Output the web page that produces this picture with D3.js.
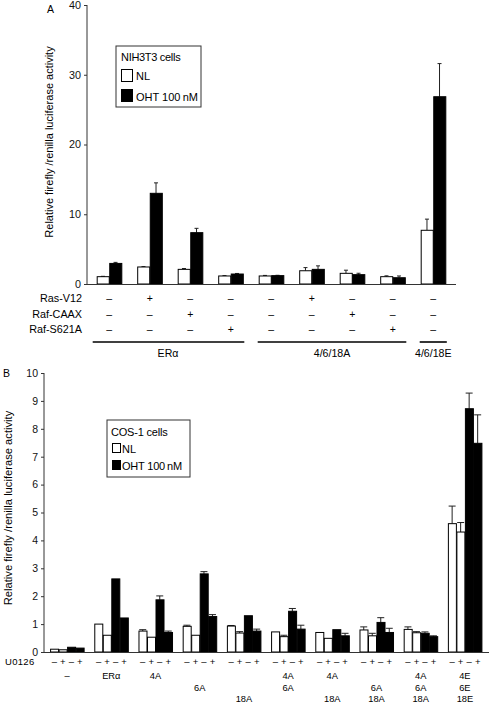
<!DOCTYPE html>
<html><head><meta charset="utf-8">
<script src="https://cdn.jsdelivr.net/npm/d3@7"></script>
<style>body{margin:0;background:#fff}svg{font-family:"Liberation Sans",Arial,sans-serif}</style>
</head><body><svg id="c" width="489" height="704"></svg>
<script>
// ---------- Panel A data ----------
const aGroups = ["g1","g2","g3","g4","g5","g6","g7","g8","g9"];
const aSeries = ["NL","OHT 100 nM"];
const aNL = [1.05, 2.44, 2.1, 1.15, 1.15, 1.9, 1.53, 1.05, 7.7];
const aNLerr = [0.05, 0.05, 0.12, 0.05, 0.08, 0.45, 0.45, 0.12, 1.6];
const aOHT = [2.95, 13.0, 7.36, 1.43, 1.2, 2.1, 1.34, 0.9, 26.85];
const aOHTerr = [0.15, 1.5, 0.62, 0.08, 0.05, 0.5, 0.2, 0.25, 4.75];
const aTicks = [0, 10, 20, 30, 40];
const aRows = ["Ras-V12","Raf-CAAX","Raf-S621A"];
const aSigns = [
  ["–","+","–","–","–","+","–","–","–"],
  ["–","–","+","–","–","–","+","–","–"],
  ["–","–","–","+","–","–","–","+","–"]
];
const aConstructs = [{label:"ERα", from:0, to:3},{label:"4/6/18A", from:4, to:7},{label:"4/6/18E", from:8, to:8}];

// ---------- Panel B data ----------
const bGroups = ["-","ERα","4A","6A","18A","4A6A","4A18A","6A18A","4A6A18A","E"];
const bBars = ["NL-","NL+","OHT-","OHT+"];
const bU0126 = ["–","+","–","+"];
const bValues = [
  [0.1, 0.08, 0.17, 0.14],
  [1.0, 0.6, 2.62, 1.22],
  [0.75, 0.53, 1.87, 0.7],
  [0.92, 0.6, 2.8, 1.27],
  [0.93, 0.68, 1.3, 0.75],
  [0.72, 0.55, 1.46, 0.82],
  [0.7, 0.49, 0.8, 0.58],
  [0.79, 0.58, 1.06, 0.7],
  [0.81, 0.69, 0.67, 0.55],
  [4.6, 4.3, 8.72, 7.48]
];
const bErrors = [
  [0, 0, 0, 0],
  [0, 0, 0, 0],
  [0.05, 0, 0.14, 0.05],
  [0.04, 0, 0.08, 0.07],
  [0.02, 0.05, 0, 0.07],
  [0, 0.05, 0.1, 0.14],
  [0, 0, 0, 0.09],
  [0.11, 0.09, 0.17, 0.15],
  [0.09, 0.04, 0.05, 0.03],
  [0.63, 0.34, 0.56, 1.02]
];
const bLabels = [
  ["–","",""],["ERα","",""],["4A","",""],["","6A",""],["","","18A"],
  ["4A","6A",""],["4A","","18A"],["","6A","18A"],["4A","6A","18A"],["4E","6E","18E"]
];
const bTicks = [0,1,2,3,4,5,6,7,8,9,10];

const svg = d3.select("#c");
const axisCol = "#333";

// ================= Panel A =================
const ay = d3.scaleLinear().domain([0,40]).range([284,5]);
const ax = d3.scaleBand().domain(aGroups).range([89,453.5]).paddingInner(0.38).paddingOuter(0.19);
const axi = d3.scaleBand().domain(aSeries).range([0, ax.bandwidth()]);
const gA = svg.append("g");

const aData = aGroups.map((g,i)=>[
  {g, s:aSeries[0], v:aNL[i], e:aNLerr[i]},
  {g, s:aSeries[1], v:aOHT[i], e:aOHTerr[i]}
]).flat();

gA.selectAll(".errA").data(aData).join("g").each(function(d){
  const cx = ax(d.g)+axi(d.s)+axi.bandwidth()/2;
  const g = d3.select(this);
  g.append("line").attr("x1",cx).attr("x2",cx).attr("y1",ay(d.v)).attr("y2",ay(d.v+d.e)).attr("stroke","#222").attr("stroke-width",1);
  g.append("line").attr("x1",cx-2).attr("x2",cx+2).attr("y1",ay(d.v+d.e)).attr("y2",ay(d.v+d.e)).attr("stroke","#222").attr("stroke-width",1);
});
gA.selectAll(".barA").data(aData).join("rect")
  .attr("x",d=>ax(d.g)+axi(d.s)+0.5)
  .attr("y",d=>ay(d.v))
  .attr("width",axi.bandwidth()-0.5)
  .attr("height",d=>ay(0)-ay(d.v))
  .attr("fill",d=>d.s==="NL"?"#fff":"#000")
  .attr("stroke","#000").attr("stroke-width",1);

const yAxA = gA.append("g").attr("transform","translate(87,0)")
  .call(d3.axisLeft(ay).tickValues(aTicks).tickSize(3).tickPadding(3));
yAxA.select(".domain").attr("stroke",axisCol).attr("d","M-0,5V284");
yAxA.selectAll(".tick line").attr("stroke",axisCol);
yAxA.selectAll("text").attr("font-size",10.8).attr("fill","#111").attr("font-family","Liberation Sans, Arial");
gA.append("line").attr("x1",87).attr("x2",456).attr("y1",284.5).attr("y2",284.5).attr("stroke",axisCol).attr("stroke-width",1.2);

gA.append("text").attr("x",47).attr("y",13).attr("font-size",10.5).text("A");
gA.append("text").attr("transform","translate(53,142) rotate(-90)").attr("text-anchor","middle")
  .attr("font-size",11).text("Relative firefly /renilla luciferase activity");

// legend A
gA.append("rect").attr("x",116).attr("y",46).attr("width",85).attr("height",61).attr("fill","#fff").attr("stroke","#333");
gA.append("text").attr("x",121).attr("y",61).attr("font-size",11).attr("letter-spacing",-0.3).text("NIH3T3 cells");
gA.append("rect").attr("x",121.5).attr("y",69.5).attr("width",11).attr("height",12).attr("fill","#fff").attr("stroke","#000");
gA.append("text").attr("x",136).attr("y",80).attr("font-size",11).text("NL");
gA.append("rect").attr("x",121.5).attr("y",89.5).attr("width",11).attr("height",12).attr("fill","#000").attr("stroke","#000");
gA.append("text").attr("x",136).attr("y",101).attr("font-size",11).text("OHT 100\u2009nM");

const rowY = [302, 318, 333];
aRows.forEach((r,i)=>{
  gA.append("text").attr("x",82).attr("y",rowY[i]).attr("text-anchor","end").attr("font-size",10.8).text(r);
  gA.selectAll(null).data(aGroups).join("text")
    .attr("x",g=>ax(g)+ax.bandwidth()/2).attr("y",rowY[i]).attr("text-anchor","middle")
    .attr("font-size",10.5).text((g,j)=>aSigns[i][j]);
});
aConstructs.forEach(c=>{
  const x1 = ax(aGroups[c.from]) - (c.from===0?4:1);
  const x2 = ax(aGroups[c.to]) + ax.bandwidth() + 1;
  gA.append("line").attr("x1",x1).attr("x2",x2).attr("y1",342).attr("y2",342).attr("stroke","#000").attr("stroke-width",1.6);
  gA.append("text").attr("x",(ax(aGroups[c.from])+ax(aGroups[c.to])+ax.bandwidth())/2 - (c.from===0?2:0)).attr("y",357)
    .attr("text-anchor","middle").attr("font-size",10.6).text(c.label);
});

// ================= Panel B =================
const by = d3.scaleLinear().domain([0,10]).range([652,373]);
const bx = d3.scaleBand().domain(bGroups).range([45,487]).paddingInner(0.23).paddingOuter(0.115);
const bxi = d3.scaleBand().domain(bBars).range([0,bx.bandwidth()]);
const gB = svg.append("g");

const bData = bGroups.map((g,i)=>bBars.map((b,j)=>({g,b,v:bValues[i][j],e:bErrors[i][j]}))).flat();

gB.selectAll(".errB").data(bData.filter(d=>d.e>0)).join("g").each(function(d){
  const cx = bx(d.g)+bxi(d.b)+bxi.bandwidth()/2;
  const g = d3.select(this);
  g.append("line").attr("x1",cx).attr("x2",cx).attr("y1",by(d.v)).attr("y2",by(d.v+d.e)).attr("stroke","#222").attr("stroke-width",1);
  g.append("line").attr("x1",cx-3.5).attr("x2",cx+3.5).attr("y1",by(d.v+d.e)).attr("y2",by(d.v+d.e)).attr("stroke","#222").attr("stroke-width",1);
});
gB.selectAll(".barB").data(bData).join("rect")
  .attr("x",d=>bx(d.g)+bxi(d.b)+0.5)
  .attr("y",d=>by(d.v))
  .attr("width",bxi.bandwidth()-0.5)
  .attr("height",d=>by(0)-by(d.v))
  .attr("fill",d=>d.b.startsWith("NL")?"#fff":"#000")
  .attr("stroke","#000").attr("stroke-width",1);

const yAxB = gB.append("g").attr("transform","translate(44,0)")
  .call(d3.axisLeft(by).tickValues(bTicks).tickSize(3).tickPadding(3));
yAxB.select(".domain").attr("stroke",axisCol).attr("d","M-0,373V652");
yAxB.selectAll(".tick line").attr("stroke",axisCol);
yAxB.selectAll("text").attr("font-size",10.5).attr("fill","#111").attr("font-family","Liberation Sans, Arial");
gB.append("line").attr("x1",44).attr("x2",489).attr("y1",652.5).attr("y2",652.5).attr("stroke",axisCol).attr("stroke-width",1.2);

gB.append("text").attr("x",3).attr("y",377).attr("font-size",10.5).text("B");
gB.append("text").attr("transform","translate(12,508) rotate(-90)").attr("text-anchor","middle")
  .attr("font-size",11.2).text("Relative firefly /renilla luciferase activity");

// legend B
gB.append("rect").attr("x",107).attr("y",420).attr("width",83).attr("height",57).attr("fill","#fff").attr("stroke","#333");
gB.append("text").attr("x",111).attr("y",436).attr("font-size",11).attr("letter-spacing",-0.2).text("COS-1 cells");
gB.append("rect").attr("x",112.5).attr("y",443.5).attr("width",8).attr("height",9).attr("fill","#fff").attr("stroke","#000");
gB.append("text").attr("x",122).attr("y",453).attr("font-size",11).text("NL");
gB.append("rect").attr("x",112.5).attr("y",460.5).attr("width",8).attr("height",9).attr("fill","#000").attr("stroke","#000");
gB.append("text").attr("x",122).attr("y",470).attr("font-size",11).attr("letter-spacing",-0.2).text("OHT 100\u2009nM");

gB.append("text").attr("x",5).attr("y",665).attr("font-size",9.5).attr("letter-spacing",0.3).text("U0126");
bGroups.forEach(g=>{
  gB.selectAll(null).data(bBars).join("text")
    .attr("x",b=>bx(g)+bxi(b)+bxi.bandwidth()/2).attr("y",665).attr("text-anchor","middle")
    .attr("font-size",9.5).text((b,j)=>bU0126[j]);
});
const lblY = [679, 690.5, 701.5];
bGroups.forEach((g,i)=>{
  bLabels[i].forEach((t,r)=>{
    if(!t) return;
    gB.append("text").attr("x",bx(g)+bx.bandwidth()/2).attr("y",lblY[r]).attr("text-anchor","middle")
      .attr("font-size",9.3).text(t);
  });
});
</script></body></html>
